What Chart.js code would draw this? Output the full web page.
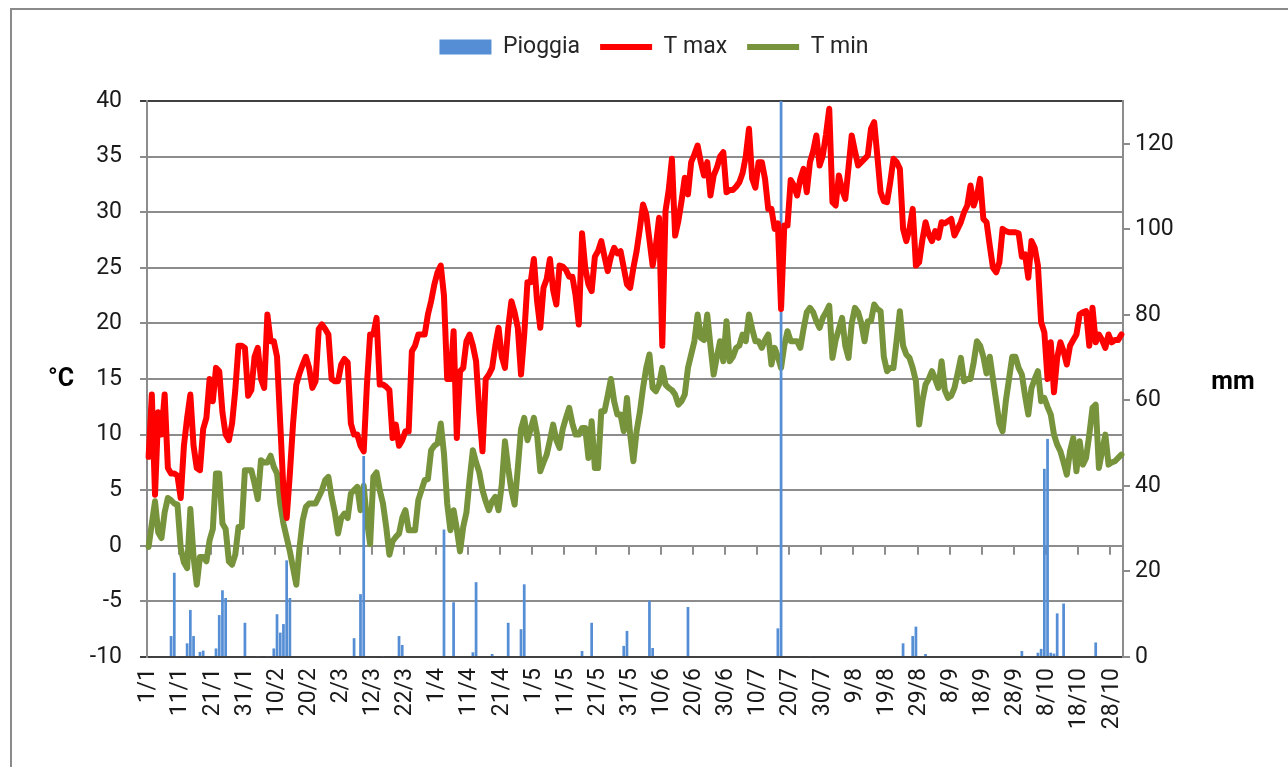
<!DOCTYPE html>
<html><head><meta charset="utf-8">
<script src="https://cdn.jsdelivr.net/npm/chart.js@4.4.0/dist/chart.umd.min.js"></script>
<style>
html,body{margin:0;padding:0;background:#fff;}
#wrap{position:relative;width:1288px;height:767px;overflow:hidden;background:#fff;}
#frame{position:absolute;left:10px;top:8px;width:1400px;height:900px;border-left:2px solid #8a8a8a;border-top:2px solid #8a8a8a;}
canvas{position:absolute;left:0;top:0;}
</style></head><body>
<div id="wrap"><div id="frame"></div><canvas id="c" width="1288" height="767"></canvas></div>
<script>
// ---- data ----
const monthDays = [31,28,31,30,31,30,31,31,30,31];
const categories = [];
for (let m = 0; m < monthDays.length; m++) for (let d = 1; d <= monthDays[m]; d++) categories.push(d + '/' + (m + 1));

const tMax = [8,13.6,4.6,12,10,13.6,7,6.5,6.5,6.3,
4.3,9,11.5,13.6,9,7,6.8,10.5,11.5,15,
13,16,15.7,12,10,9.5,11,14,18,18,
17.8,13.5,14,17,17.8,15,14.2,20.8,18.4,18.4,
17,11,5,2.5,6.5,11,14.5,15.5,16.3,17,
16,14.2,14.8,19.5,19.9,19.5,19,15,14.8,14.8,
16.3,16.8,16.5,11,10,10,9,8.5,14.5,19,
19,20.5,14.5,14.5,14.3,14,9.7,10.9,9,9.5,
10.3,10.3,17.5,18,19,19,19,20.8,22,23.5,
24.6,25.2,22.5,15,15,19.3,9.7,15.7,16,18.4,
19,18,16.6,12,8.5,15,15.4,16,18,19.6,
17,16,19.6,22,21,19.6,15.4,19,23.7,23.7,
25.8,22,19.6,23.2,24,25.8,23,21.7,25.2,25.1,
24.8,24.2,24.2,22.5,19.9,28.1,25,23.5,22.9,26,
26.5,27.4,26,24.7,26,26.8,26.3,26.5,25,23.5,
23.2,25,26.5,28.5,30.7,29.8,27.5,25.2,27,29.5,
18,30.1,32,34.8,27.9,29.2,31,33.1,31.6,34.5,
35.2,36,34.5,33.3,34.5,31.5,33.3,34,35,35.4,
31.8,32,32,32.3,32.7,33.5,35,37.5,33,32.2,
34.5,34.5,33,30.3,30.3,28.5,29,21.3,28.8,28.8,
32.9,32.4,31.5,33,33.9,31.8,34.5,35.5,36.9,34.2,
35.1,37,39.3,30.9,30.6,33.3,32,31.2,34,36.9,
35.5,34.2,34.5,34.8,35.1,37.5,38.1,35,31.8,31,
30.9,32.7,34.8,34.5,33.9,28.5,27.4,28.5,30.3,25.2,
25.5,27.5,29.1,28,27.4,28.3,27.7,29.1,29,29.2,
29.4,27.9,28.5,29.1,30,30.6,32.4,30.6,31.5,33,
29.4,29.1,27,25,24.6,25.5,28.5,28.3,28.2,28.2,
28.2,28.1,26,26.2,24.1,27.4,26.8,25.2,20.1,19.2,
15,18.3,13.8,16.9,18.3,17.5,16.3,18,18.5,19,
20.8,21,21.1,18,21.4,18.3,19,18.5,17.8,19,
18.3,18.5,18.5,19];

const tMin = [-0.1,2,4,1.2,0.7,3,4.3,4.1,3.8,3.7,
-0.2,-1.5,-2,3.3,-1,-3.5,-1,-1,-1.4,0.5,
1.5,6.5,6.5,2,1.5,-1.4,-1.7,-0.8,1.7,1.7,
6.8,6.8,6.8,5.6,4.2,7.7,7.5,7.5,8.1,7.1,
6.5,3.8,2,0.75,-0.5,-2,-3.5,-0.2,2.3,3.5,
3.8,3.8,3.8,4.4,5,5.9,6.2,4.4,3,1.1,
2.5,2.9,2.5,4.7,5,5.3,3.2,5.4,2.3,0.15,
6.2,6.6,5,3.8,1.7,-0.8,0.4,0.8,1.1,2.5,
3.2,1.4,1.4,1.4,4.1,5,5.9,6,8.6,9,
9.2,11,8.3,3.8,1.4,3.2,1.5,-0.5,1.7,3,
6,8.6,7.5,6.6,5,4,3.2,4,4.4,3.2,
5.5,9.4,7,5,3.7,7,10.5,11.5,9.5,10.5,
11.5,10,6.7,7.5,8.2,9.5,10.9,9.5,8.8,10.5,
11.5,12.4,11,10,10,10.6,10.6,7.9,11.2,7,
7,12.1,12.1,13.5,15,13,11.8,11.8,10.3,13.3,
10,7.6,10.3,12,14.2,16,17.2,14.2,13.9,14.5,
16,14.5,14.2,14,13.6,12.7,13,13.6,16,17.2,
18.4,20.8,18.7,18.5,20.8,18,15.4,17,18.4,16.6,
20.2,16.6,17,17.8,18,19,18.4,20.8,19.5,18.4,
18.4,17.8,18.5,19,16.3,17.8,17,16,18,19.3,
18.4,18.4,18.4,17.8,19.5,21,21.4,21,20.2,19.6,
20.5,21,21.6,16.9,18.5,19.5,20.5,18,16.9,20,
21.4,21,20,18.4,20.2,20.2,21.7,21.3,21.1,17,
15.7,16,16,18.5,21.1,18,17.2,16.9,16,14.8,
10.9,13,14.5,15,15.7,15,14.2,16.6,14,13.3,
13.5,14.2,15.5,16.9,14.8,15,15,16.5,18.4,18,
17,15.5,17,15,13,11,10.3,13,15,17,
17,16,15.4,13.5,11.8,14.2,15,15.7,13,13.3,
12.5,11.8,10,9.1,8.5,7.5,6.4,8.5,9.7,6.7,
9.4,7.3,7.9,10,12.4,12.7,7,8.5,10,7.3,
7.5,7.6,7.9,8.2];

const rain = [0,0,0,0,0,0,0,4.9,19.7,0.2,
0,0,3.2,11,4.9,0,1.2,1.5,0,0,
0,2,9.8,15.6,13.8,0,0,0,0,0,
8,0,0,0,0.2,0,0,0.2,0,2,
10,5.7,7.7,22.6,13.8,0,0,0,0,0,
0,0,0,0,0,0,0,0,0,0,
0,0,0,0,4.4,0,14.7,47,0,0,
0,0,0,0.2,0,0,0,0,4.9,2.8,
0,0,0,0,0,0,0,0,0,0,
0,0,29.8,0,0,12.8,0,0,0,0,
0,1.1,17.5,0,0,0,0,0.7,0,0,
0,0,8,0,0,0,6.5,17,0,0,
0,0,0,0,0,0,0,0,0,0,
0,0,0,0,0,1.4,0,0,8,0,
0,0,0,0,0,0,0,0,2.6,6.1,
0,0,0,0,0,0,13.2,2.1,0,0,
0,0,0,0,0,0,0,0,11.7,0,
0,0,0,0,0,0,0,0,0,0,
0,0,0,0,0,0,0,0,0,0,
0,0,0,0,0,0,6.7,140,0,0,
0,0,0,0,0,0,0.2,0,0,0,
0,0,0,0,0,0,0,0,0,0,
0,0,0,0,0,0,0,0,0,0,
0,0,0,0,0,3.2,0,0,4.9,7.1,
0,0,0.7,0,0,0,0,0,0,0,
0,0,0,0,0,0,0,0,0,0,
0,0,0,0,0,0,0,0,0,0,
0,0,1.4,0,0,0,0,1,1.9,44,
51,1,0.8,10.2,0,12.5,0,0,0,0,
0,0,0,0,0,3.4,0,0,0,0,
0,0,0,0];

const seriesNames = ['Pioggia', 'T max', 'T min'];

// ---- styling ----
const FONT = 'Roboto';
const GRID = '#8c8c8c';
const DARK = '#404040';
Chart.defaults.font.family = FONT;
Chart.defaults.font.size = 23;
Chart.defaults.color = '#1a1a1a';

const extras = {
  id: 'extras',
  beforeLayout(chart) {
    const lg = chart.legend;
    if (lg && !lg.__patched) {
      const f = lg.fit;
      lg.fit = function () { f.call(this); this.height += 32.5; };
      lg.__patched = true;
    }
  },
  beforeDatasetsDraw(chart) {
    const { ctx, scales: { x, y } } = chart;
    const y0 = y.getPixelForValue(0);
    ctx.save();
    ctx.strokeStyle = GRID;
    ctx.lineWidth = 2;
    for (let i = 10; i < categories.length; i += 10) {
      const px = Math.round((x.getPixelForValue(i - 1) + x.getPixelForValue(i)) / 2);
      ctx.beginPath();
      ctx.moveTo(px, y0);
      ctx.lineTo(px, y0 + 9);
      ctx.stroke();
    }
    ctx.restore();
  },
  afterDraw(chart) {
    const { ctx, chartArea } = chart;
    const cy = (chartArea.top + chartArea.bottom) / 2;
    ctx.save();
    ctx.fillStyle = '#000';
    ctx.font = 'bold 25px ' + FONT;
    ctx.textAlign = 'center';
    ctx.textBaseline = 'middle';
    ctx.fillText('°C', 61, cy + 1);
    ctx.fillText('mm', 1233, cy + 4);
    ctx.restore();
  }
};

new Chart(document.getElementById('c'), {
  type: 'bar',
  data: {
    labels: categories,
    datasets: [
      { type: 'bar', label: seriesNames[0], data: rain, yAxisID: 'y1',
        backgroundColor: '#558ED5', borderWidth: 0, barPercentage: 0.85, categoryPercentage: 1, order: 2 },
      { type: 'line', label: seriesNames[1], data: tMax, yAxisID: 'y',
        borderColor: '#FF0000', backgroundColor: '#FF0000', borderWidth: 6, pointRadius: 0,
        tension: 0, borderJoinStyle: 'round', borderCapStyle: 'round', order: 1 },
      { type: 'line', label: seriesNames[2], data: tMin, yAxisID: 'y',
        borderColor: '#77933C', backgroundColor: '#77933C', borderWidth: 6, pointRadius: 0,
        tension: 0, borderJoinStyle: 'round', borderCapStyle: 'round', order: 3 }
    ]
  },
  options: {
    responsive: false,
    animation: false,
    devicePixelRatio: 1,
    layout: { padding: { left: 20, right: 0, top: 15.5, bottom: 0 } },
    plugins: {
      tooltip: { enabled: false },
      legend: {
        position: 'top',
        labels: {
          usePointStyle: true,
          pointStyleWidth: 52,
          boxHeight: 15,
          padding: 20,
          color: '#262626',
          font: { size: 23, family: FONT },
          generateLabels(chart) {
            const items = Chart.defaults.plugins.legend.labels.generateLabels(chart);
            items.forEach(it => {
              const ds = chart.data.datasets[it.datasetIndex];
              if (ds.type === 'bar') { it.pointStyle = 'rect'; it.lineWidth = 0; }
              else { it.pointStyle = 'line'; it.lineWidth = 6; it.strokeStyle = ds.borderColor; }
            });
            items.sort((a, b) => a.datasetIndex - b.datasetIndex);
            return items;
          }
        }
      }
    },
    scales: {
      x: {
        type: 'category',
        offset: true,
        grid: { display: false, drawTicks: false },
        border: { display: true, color: DARK, width: 2 },
        ticks: {
          autoSkip: false, minRotation: 90, maxRotation: 90, padding: 11,
          color: '#1a1a1a',
          callback: (v, i) => (i % 10 === 0 ? categories[i] : '')
        },
        afterFit: s => { s.height = 110; }
      },
      y: {
        position: 'left',
        min: -10, max: 40,
        ticks: { stepSize: 5, padding: 18, color: '#1a1a1a' },
        grid: {
          color: c => (c.tick && (c.tick.value === 40 || c.tick.value === -10)) ? DARK : GRID,
          lineWidth: 2, tickLength: 7, drawTicks: true
        },
        border: { color: GRID, width: 2 },
        afterFit: s => { s.width = 127; }
      },
      y1: {
        position: 'right',
        min: 0, max: 130,
        ticks: { stepSize: 20, includeBounds: false, padding: 5, color: '#1a1a1a' },
        grid: { drawOnChartArea: false, color: GRID, lineWidth: 2, tickLength: 7 },
        border: { color: GRID, width: 2 },
        afterFit: s => { s.width = 165; }
      }
    }
  },
  plugins: [extras]
});
</script>
</body></html>
